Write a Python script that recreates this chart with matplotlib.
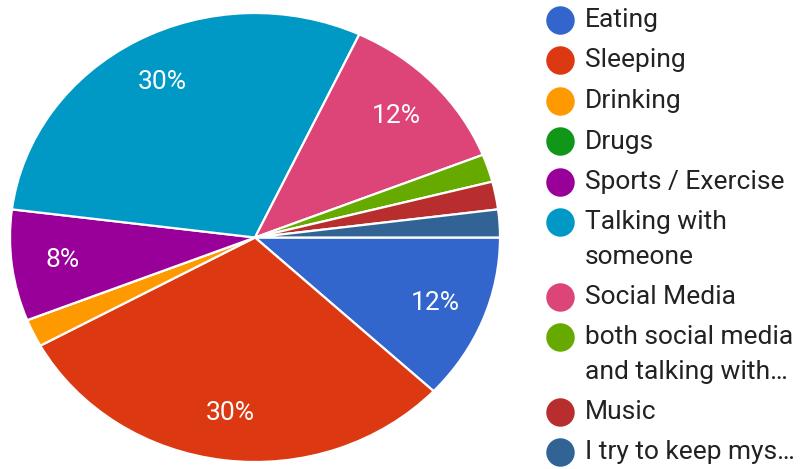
import matplotlib
matplotlib.use("Agg")
import matplotlib.pyplot as plt

categories = ["Eating", "Sleeping", "Drinking", "Drugs", "Sports / Exercise",
              "Talking with someone", "Social Media",
              "both social media and talking with…", "Music", "I try to keep mys…"]
legend_labels = ["Eating", "Sleeping", "Drinking", "Drugs", "Sports / Exercise",
                 "Talking with\nsomeone", "Social Media",
                 "both social media\nand talking with…", "Music", "I try to keep mys…"]
counts = [6, 15, 1, 0, 4, 15, 6, 1, 1, 1]
colors = ["#3366cc", "#dc3912", "#ff9900", "#109618", "#990099",
          "#0099c6", "#dd4477", "#66aa00", "#b82e2e", "#316395"]

W, H = 804, 469
fig = plt.figure(figsize=(W / 100, H / 100), dpi=100)
plt.rcParams["font.family"] = ["Roboto", "DejaVu Sans"]

# Pie area (slightly wider than tall)
left, right, top, bottom = 10, 500, 13, 462
ax = fig.add_axes([left / W, (H - bottom) / H, (right - left) / W, (bottom - top) / H])


def pct_label(p):
    return f"{p:.0f}%" if p >= 5 else ""


wedges, texts, autotexts = ax.pie(
    counts, colors=colors, startangle=0, counterclock=False,
    autopct=pct_label, pctdistance=0.79,
    wedgeprops=dict(edgecolor="white", linewidth=1.6),
    textprops=dict(color="white", fontsize=19),
)
ax.set_aspect("auto")
ax.set_xlim(-1, 1)
ax.set_ylim(-1, 1)
ax.axis("off")

# Legend drawn in pixel coordinates
lax = fig.add_axes([0, 0, 1, 1])
lax.set_xlim(0, W)
lax.set_ylim(H, 0)
lax.axis("off")
extra = 0
for i, (lab, col) in enumerate(zip(legend_labels, colors)):
    y = 20 + i * 40.5 + extra * 34
    lax.scatter([560], [y], s=420, color=col, marker="o", linewidths=0)
    for j, line in enumerate(lab.split("\n")):
        lax.text(585, y + j * 34, line, fontsize=19, color="#222222",
                 va="center", ha="left")
    extra += lab.count("\n")

fig.savefig("out.png", dpi=100)
